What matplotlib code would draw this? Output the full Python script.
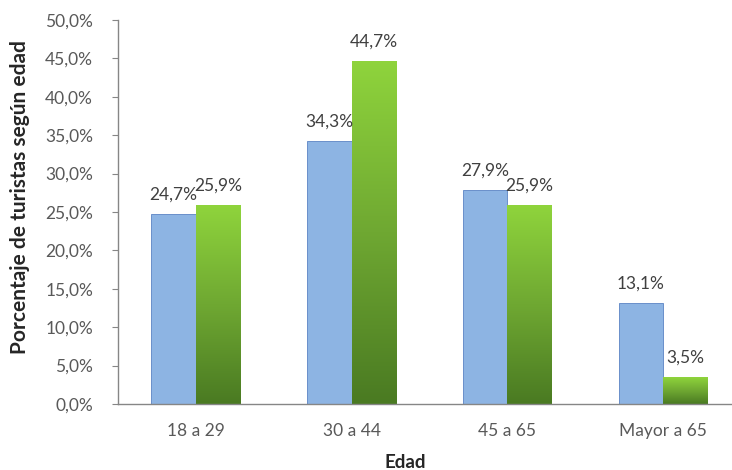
import numpy as np
import matplotlib.pyplot as plt
from matplotlib.colors import LinearSegmentedColormap

# Datos
categorias = ['18 a 29', '30 a 44', '45 a 65', 'Mayor a 65']
serie_azul = [24.7, 34.3, 27.9, 13.1]
serie_verde = [25.9, 44.7, 25.9, 3.5]
yticks = np.arange(0, 50.1, 5)

plt.rcParams['font.family'] = ['Lato', 'DejaVu Sans']
gris = '#595959'

fig = plt.figure(figsize=(7.32, 4.70), dpi=100)
ax = fig.add_axes([118 / 732, 66 / 470, 623 / 732, 384 / 470])

x = np.arange(len(categorias))
ancho = 0.285

b1 = ax.bar(x - ancho / 2, serie_azul, ancho, color='#8db4e3', edgecolor='#5b84c4', linewidth=0.6)
b2 = ax.bar(x + ancho / 2, serie_verde, ancho, color='none', edgecolor='none')

# Degradado verde (claro arriba, oscuro abajo) dentro de cada barra
cmap = LinearSegmentedColormap.from_list('verde', ['#4a7a22', '#6fa832', '#8fd43c'])
grad = np.linspace(0, 1, 256).reshape(-1, 1)
for r in b2:
    x0, y0 = r.get_x(), r.get_y()
    w, h = r.get_width(), r.get_height()
    im = ax.imshow(grad, extent=[x0, x0 + w, y0, y0 + h], origin='lower',
                   cmap=cmap, aspect='auto', zorder=2)
    im.set_clip_path(r)

for barras in (b1, b2):
    for r in barras:
        v = r.get_height()
        ax.annotate(f'{v:.1f}%'.replace('.', ','), (r.get_x() + r.get_width() / 2, v),
                    xytext=(0, 14), textcoords='offset points', ha='center', va='center',
                    fontsize=12.5, color='#404040')

ax.set_xlim(-0.5, len(categorias) - 0.5)
ax.set_ylim(0, 50)
ax.set_xticks(x)
ax.set_xticklabels(categorias, fontsize=12.5, color=gris)
ax.set_yticks(yticks)
ax.set_yticklabels([f'{t:.1f}%'.replace('.', ',') for t in yticks], fontsize=12.5, color=gris)
ax.tick_params(axis='x', length=0, pad=14)
ax.tick_params(axis='y', length=4, color='#868686', pad=14)

for s in ['top', 'right']:
    ax.spines[s].set_visible(False)
for s in ['left', 'bottom']:
    ax.spines[s].set_color('#868686')
    ax.spines[s].set_linewidth(1)

fig.text(405 / 732, 1 - 462 / 470, 'Edad', ha='center', va='center',
         fontsize=13.5, fontweight='bold', color='#262626')
fig.text(20 / 732, 1 - 197 / 470, 'Porcentaje de turistas según edad', ha='center', va='center',
         rotation=90, fontsize=15, fontweight='bold', color='#262626')

fig.savefig('out.png', dpi=100)
